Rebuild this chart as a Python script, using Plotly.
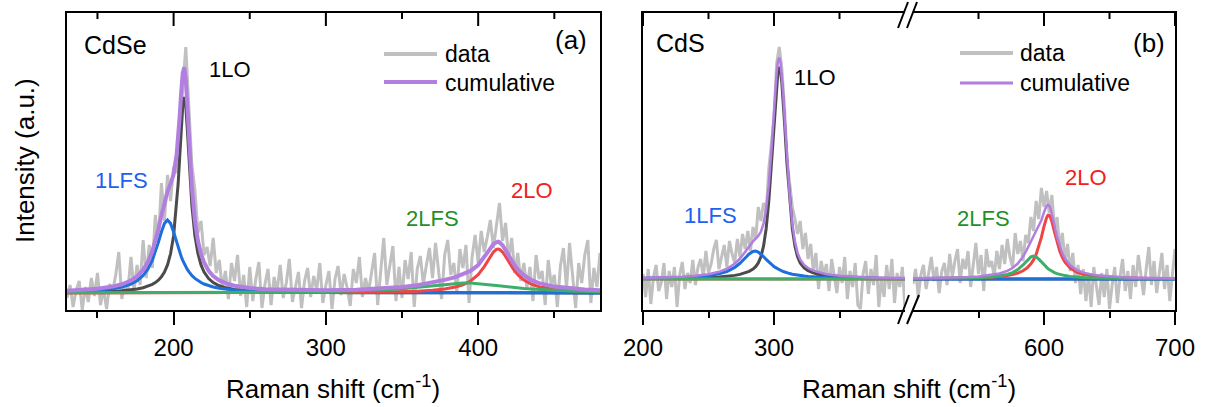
import plotly.graph_objects as go

W, H = 1208, 407
FONT = "Liberation Sans, Arial, sans-serif"


def px(x):
    return x / W


def py(y):
    return 1 - y / H


# ---------------- Panel (a): CdSe ----------------
xa_data = list(range(130, 481, 2))
a_data = [
    -5, 8, -14, 3, 12, -17, 6, -9, 15, -3,
    20, -12, 4, -16, 9, 2, 18, 41, -6, 10,
    3, 36, 2, 28, 8, 53, 15, 48, 25, 78,
    50, 110, 72, 118, 92, 126, 120, 165, 210, 246,
    186, 128, 103, 60, 72, 38, 46, 27, 55, 20,
    33, 4, 22, -6, 30, 12, 38, -3, 18, -14,
    26, -8, 14, 31, -15, 9, 24, -12, 16, 2,
    28, -5, 10, 34, -9, 6, 21, -15, 12, 25,
    -4, 17, 3, 30, -10, 8, 22, -16, 14, 27,
    -2, 19, 5, -13, 24, 10, 36, -4, 15, 1,
    22, 40, -12, 18, 55, 8, 29, 47, -8, 26,
    -5, 33, 14, 41, -14, 24, 37, 9, 28, 45,
    15, 50, 22, -6, 38, 53, 18, 30, 0, 44,
    25, 48, -10, 36, 58, 30, 62, 41, 56, 73,
    45, 66, 90, 52, 70, 34, 55, 20, 40, 12,
    30, 5, 26, -8, 38, 14, 22, -12, 33, 8,
    18, -14, 27, 45, 4, 50, 16, -15, 30, 10,
    38, 53, -10, 25, 6, 40,
]
xa_fit = [130, 140, 150, 160, 166, 172, 176, 180, 183, 186,
          188, 190, 192, 194, 196, 198, 200, 202, 203, 204,
          205, 206, 207, 208, 209, 210, 211, 212, 214, 216,
          218, 220, 223, 226, 230, 235, 240, 250, 260, 280,
          300, 320, 340, 350, 360, 370, 378, 385, 390, 395,
          400, 404, 407, 410, 412, 413, 414, 416, 418, 420,
          423, 426, 430, 435, 440, 450, 460, 470, 480]
a_1LO = [0.7, 0.9, 1.2, 1.8, 2.3, 3.2, 4.0, 5.3, 6.7, 8.6,
         10.4, 12.8, 16.2, 21.0, 28.1, 39.2, 57.3, 87.7, 109.5, 135.7,
         163.7, 186.8, 196.0, 186.8, 163.7, 135.7, 109.5, 87.7, 57.3, 39.2,
         28.1, 21.0, 14.4, 10.4, 7.2, 4.9, 3.6, 2.1, 1.4, 0.7,
         0.5, 0.3, 0.2, 0.2, 0.2, 0.2, 0.1, 0.1, 0.1, 0.1,
         0.1, 0.1, 0.1, 0.1, 0.1, 0.1, 0.1, 0.1, 0.1, 0.1,
         0.1, 0.1, 0.1, 0.1, 0.1, 0.1, 0.1, 0.1, 0.1]
a_1LFS = [1.3, 1.8, 2.7, 4.3, 6.0, 9.0, 12.3, 17.5, 23.6, 32.7,
          40.8, 50.6, 61.0, 69.6, 73.0, 69.6, 61.0, 50.6, 45.5, 40.8,
          36.5, 32.7, 29.3, 26.3, 23.6, 21.3, 19.3, 17.5, 14.6, 12.3,
          10.5, 9.0, 7.3, 6.0, 4.8, 3.7, 2.9, 2.0, 1.4, 0.8,
          0.5, 0.4, 0.3, 0.25, 0.2, 0.2, 0.2, 0.2, 0.2, 0.2,
          0.15, 0.15, 0.15, 0.15, 0.15, 0.15, 0.15, 0.15, 0.15, 0.15,
          0.14, 0.14, 0.13, 0.13, 0.12, 0.12, 0.11, 0.11, 0.1]
a_2LO = [0.1, 0.1, 0.1, 0.1, 0.1, 0.1, 0.1, 0.1, 0.1, 0.1,
         0.1, 0.1, 0.1, 0.1, 0.1, 0.1, 0.1, 0.1, 0.1, 0.1,
         0.1, 0.1, 0.1, 0.1, 0.1, 0.1, 0.1, 0.1, 0.1, 0.1,
         0.1, 0.1, 0.1, 0.2, 0.2, 0.2, 0.2, 0.2, 0.2, 0.3,
         0.4, 0.6, 1.0, 1.3, 1.8, 2.7, 4.0, 5.9, 8.2, 12.0,
         18.4, 26.4, 33.9, 41.0, 43.6, 44.0, 43.6, 41.0, 36.5, 31.3,
         24.1, 18.4, 13.0, 8.8, 6.3, 3.6, 2.3, 1.6, 1.2]
a_2LFS = [0.2, 0.2, 0.2, 0.2, 0.2, 0.2, 0.3, 0.3, 0.3, 0.3,
          0.3, 0.3, 0.3, 0.3, 0.3, 0.3, 0.3, 0.3, 0.3, 0.3,
          0.3, 0.3, 0.3, 0.3, 0.3, 0.3, 0.3, 0.4, 0.4, 0.4,
          0.4, 0.4, 0.4, 0.4, 0.4, 0.5, 0.5, 0.6, 0.7, 0.9,
          1.3, 2.0, 3.2, 4.2, 5.6, 7.4, 8.8, 9.7, 10.0, 9.9,
          9.4, 8.8, 8.3, 7.7, 7.4, 7.2, 7.0, 6.6, 6.3, 5.9,
          5.5, 5.0, 4.5, 3.9, 3.4, 2.6, 2.1, 1.6, 1.3]
a_cum = [2.3, 3.0, 4.2, 6.4, 8.7, 12.5, 16.7, 23.2, 30.6, 41.7,
         51.6, 63.8, 77.6, 91.0, 101.5, 109.2, 118.7, 138.7, 155.4, 177.0,
         200.7, 219.9, 225.8, 213.6, 187.8, 157.5, 129.3, 105.7, 72.4, 52.0,
         39.0, 30.5, 22.2, 17.0, 12.6, 9.3, 7.2, 4.9, 3.7, 2.8,
         2.7, 3.3, 4.7, 6.0, 7.8, 10.4, 13.1, 15.9, 18.5, 22.1,
         28.0, 35.4, 42.4, 48.9, 51.2, 51.4, 50.8, 47.8, 43.0, 37.5,
         29.8, 23.6, 17.7, 12.9, 9.9, 6.4, 4.5, 3.4, 2.7]

# ---------------- Panel (b): CdS (broken axis) ----------------
xb1_data = list(range(200, 401, 2))
b1_data = [
    5, -18, 10, -25, 2, 14, -12, -3, 16, -20,
    8, -8, 12, -28, 4, 17, -10, 6, -4, 19,
    -6, 12, 20, 2, 28, 6, 15, 30, 39, 10,
    22, 34, 12, 38, 25, 16, 40, 22, 45, 30,
    48, 28, 52, 40, 72, 58, 76, 66, 110, 136,
    160, 215, 232, 210, 172, 118, 96, 72, 60, 45,
    58, 30, 46, 20, 35, 8, 26, -10, 18, 4,
    15, -12, 20, 2, -14, 12, -4, 22, -20, 8,
    -8, 16, -26, -30, 5, 18, -15, 10, -6, 24,
    -28, 2, -18, 14, -10, 20, -24, 6, -8, 12, -30,
]
xb2_data = list(range(500, 701, 2))
b2_data = [
    -5, 10, -18, 4, 14, -10, 6, 22, -2, 12,
    -14, 8, 16, -6, 25, 2, 18, 30, -4, 20,
    10, 28, -8, 14, 36, 5, 24, -12, 30, 12,
    18, 2, 28, 10, 34, 15, 40, 22, 12, 46,
    25, 38, 18, 44, 36, 62, 48, 78, 60, 91,
    72, 88, 66, 84, 50, 62, 30, 46, 18, 35,
    8, 26, -4, 14, -15, 10, -22, 4, -28, 12,
    -10, -26, 6, -18, 10, -30, -6, 12, -24, 2,
    20, -12, 8, -20, 14, -8, 24, 2, -16, 10,
    32, -6, 18, -14, 6, 26, -10, 14, -22, 8, 30,
]
xb1_fit = [200, 210, 220, 230, 240, 250, 258, 264, 270, 274,
           278, 281, 284, 286, 288, 290, 292, 294, 296, 298,
           300, 301, 302, 303, 304, 305, 306, 307, 308, 310,
           312, 314, 316, 318, 320, 323, 326, 330, 335,
           340, 350, 360, 370, 380, 390, 400]
b1_1LO = [0.40, 0.49, 0.61, 0.79, 1.05, 1.47, 2.01, 2.65, 3.63, 4.61,
          6.06, 7.62, 9.92, 12.35, 16.05, 22.17, 32.77, 50.28, 77.31, 114.07,
          157.06, 177.97, 195.67, 207.73, 212.0, 207.73, 195.67, 177.97, 157.06, 114.07,
          77.31, 50.28, 32.77, 22.17, 16.05, 10.99, 8.27, 6.06, 4.34,
          3.26, 2.01, 1.36, 0.99, 0.75, 0.58, 0.47]
b1_1LFS = [0.63, 0.81, 1.06, 1.46, 2.11, 3.31, 5.12, 7.50, 11.57, 15.7,
           21.0, 25.0, 27.6, 28.0, 27.0, 25.0, 22.4, 19.6, 16.9, 14.5,
           12.5, 11.57, 10.7, 9.96, 9.26, 8.62, 8.03, 7.50, 7.0, 6.15,
           5.43, 4.82, 4.30, 3.86, 3.48, 3.0, 2.62, 2.20, 1.81,
           1.51, 1.09, 0.83, 0.65, 0.52, 0.43, 0.36]
b1_cum = [1.07, 1.34, 1.71, 2.30, 3.21, 4.83, 7.18, 10.21, 15.26, 20.37,
          27.12, 32.68, 37.58, 40.42, 43.12, 47.24, 55.24, 69.95, 94.28, 128.64,
          169.63, 189.61, 206.44, 217.76, 221.33, 216.42, 203.77, 185.54, 164.13, 120.29,
          82.81, 55.17, 37.14, 26.11, 19.61, 14.07, 10.97, 8.34, 6.23,
          4.85, 3.18, 2.27, 1.73, 1.36, 1.10, 0.92]
xb1_tail = [200, 250, 300, 350, 400]
b1_2LO = [0.02, 0.03, 0.04, 0.06, 0.09]
b1_2LFS = [0.02, 0.02, 0.03, 0.04, 0.06]

xb2_fit = [500, 510, 520, 530, 540, 550, 560, 566, 572, 576,
           580, 584, 587, 590, 592, 594, 596, 598, 600,
           601, 602, 603, 604, 605, 606,
           608, 610, 612, 614, 616,
           620, 625, 630, 640, 650, 660, 670, 680, 690, 700]
b2_2LO = [0.33, 0.41, 0.51, 0.66, 0.88, 1.23, 1.85, 2.46, 3.43, 4.43,
          5.92, 8.25, 10.96, 15.1, 19.1, 24.6, 32.0, 41.6, 52.6,
          57.6, 61.5, 63.7, 63.7, 61.5, 57.6,
          47.1, 36.5, 28.0, 21.6, 16.9,
          10.96, 6.94, 4.75, 2.59, 1.62, 1.11, 0.80, 0.61, 0.48, 0.38]
b2_2LFS = [0.27, 0.34, 0.44, 0.58, 0.82, 1.23, 2.05, 2.96, 4.6, 6.46,
           9.43, 14.0, 18.4, 22.1, 23.0, 22.1, 19.8, 16.9, 14.0,
           12.7, 11.5, 10.4, 9.43, 8.55, 7.77,
           6.46, 5.42, 4.6, 3.94, 3.40,
           2.60, 1.93, 1.49, 0.96, 0.66, 0.49, 0.37, 0.29, 0.24, 0.20]
b2_cum = [0.82, 0.95, 1.14, 1.41, 1.86, 2.61, 4.04, 5.56, 8.16, 11.02,
          15.48, 22.37, 29.48, 37.32, 42.22, 46.82, 51.92, 58.62, 66.72,
          70.42, 73.12, 74.22, 73.25, 70.17, 65.49,
          53.67, 42.03, 32.71, 25.65, 20.41,
          13.67, 8.97, 6.34, 3.65, 2.37, 1.69, 1.25, 0.98, 0.79, 0.65]
xb2_tail = [500, 550, 600, 650, 700]
b2_1LO = [0.12, 0.07, 0.05, 0.04, 0.03]
b2_1LFS = [0.10, 0.07, 0.05, 0.04, 0.03]

# axis ranges and ticks
xa_range = [130, 480]
xa_ticks = [200, 300, 400]
xa_minor = [150, 250, 350, 450]
ya_range = [-17, 280]
xb1_range = [200, 400]
xb1_ticks = [200, 300]
xb1_minor = [250, 350]
xb2_range = [500, 700]
xb2_ticks = [600, 700]
xb2_minor = [550, 650]
yb_range = [-31, 266]

# colours
C_DATA = "#c0c0c0"
C_1LO = "#4b4b4b"
C_1LFS = "#1c6fdc"
C_2LO = "#f04545"
C_2LFS = "#3daf6a"
C_CUM = "#b27fe0"

fig = go.Figure()


def add(x, y, color, width, xa, ya):
    fig.add_trace(go.Scatter(x=x, y=y, mode="lines", xaxis=xa, yaxis=ya,
                             line=dict(color=color, width=width),
                             showlegend=False, hoverinfo="skip"))


# panel a
add(xa_data, a_data, C_DATA, 3, "x", "y")
add(xa_fit, a_1LO, C_1LO, 3, "x", "y")
add(xa_fit, a_1LFS, C_1LFS, 3, "x", "y")
add(xa_fit, a_2LO, C_2LO, 3, "x", "y")
add(xa_fit, a_2LFS, C_2LFS, 3, "x", "y")
add(xa_fit, a_cum, C_CUM, 4, "x", "y")
# panel b left
add(xb1_data, b1_data, C_DATA, 3, "x2", "y2")
add(xb1_fit, b1_1LO, C_1LO, 3, "x2", "y2")
add(xb1_fit, b1_1LFS, C_1LFS, 3, "x2", "y2")
add(xb1_tail, b1_2LO, C_2LO, 3, "x2", "y2")
add(xb1_tail, b1_2LFS, C_2LFS, 3, "x2", "y2")
add(xb1_fit, b1_cum, C_CUM, 2.5, "x2", "y2")
# panel b right
add(xb2_data, b2_data, C_DATA, 3, "x3", "y3")
add(xb2_tail, b2_1LO, C_1LO, 3, "x3", "y3")
add(xb2_tail, b2_1LFS, C_1LFS, 3, "x3", "y3")
add(xb2_fit, b2_2LO, C_2LO, 3, "x3", "y3")
add(xb2_fit, b2_2LFS, C_2LFS, 3, "x3", "y3")
add(xb2_fit, b2_cum, C_CUM, 2.5, "x3", "y3")

PLOT_TOP, PLOT_BOTTOM = 13, 310
YDOM = [py(PLOT_BOTTOM), py(PLOT_TOP)]
tickfont = dict(family=FONT, size=24, color="black")
MAJOR_LEN, MINOR_LEN = 13, 6


def bottom_axis(dom, rng, ticks, minor, anchor):
    return dict(domain=dom, range=rng, anchor=anchor, showline=True, linewidth=2,
                linecolor="black", mirror=True, ticks="outside", ticklen=MAJOR_LEN,
                tickwidth=2, tickcolor="black", tickmode="array", tickvals=ticks,
                tickfont=tickfont, showgrid=False, zeroline=False, automargin=False,
                ticklabelstandoff=2,
                minor=dict(tickmode="array", tickvals=minor, ticks="outside",
                           ticklen=MINOR_LEN, tickwidth=2, tickcolor="black",
                           showgrid=False))


def yax(rng, anchor, side="left", mirror=False):
    return dict(domain=YDOM, range=rng, anchor=anchor, side=side, showline=True,
                linewidth=2, linecolor="black", mirror=mirror, ticks="",
                showticklabels=False, showgrid=False, zeroline=False, automargin=False)


fig.update_layout(
    width=W, height=H, margin=dict(l=0, r=0, t=0, b=0, autoexpand=False),
    paper_bgcolor="white", plot_bgcolor="white",
    font=dict(family=FONT, size=22, color="black"),
    xaxis=bottom_axis([px(67), px(600)], xa_range, xa_ticks, xa_minor, "y"),
    xaxis2=bottom_axis([px(643), px(905)], xb1_range, xb1_ticks, xb1_minor, "y2"),
    xaxis3=bottom_axis([px(913), px(1175)], xb2_range, xb2_ticks, xb2_minor, "y3"),
    yaxis=yax(ya_range, "x", mirror=True),
    yaxis2=yax(yb_range, "x2"),
    yaxis3=yax(yb_range, "x3", side="right"),
)

shapes = []


def pline(x0, y0, x1, y1, color, width):
    shapes.append(dict(type="line", xref="paper", yref="paper",
                       x0=px(x0), y0=py(y0), x1=px(x1), y1=py(y1),
                       line=dict(color=color, width=width)))


# inside-pointing ticks on the top frame, placed with each panel's x scale
for xref, ticks, minor in [("x", xa_ticks, xa_minor), ("x2", xb1_ticks, xb1_minor),
                           ("x3", xb2_ticks, xb2_minor)]:
    for vals, ln in [(ticks, MAJOR_LEN), (minor, MINOR_LEN)]:
        for v in vals:
            shapes.append(dict(type="line", xref=xref, yref="paper",
                               x0=v, x1=v, y0=py(PLOT_TOP), y1=py(PLOT_TOP + ln),
                               line=dict(color="black", width=2)))

# legend samples
pline(384, 54, 437, 54, C_DATA, 4)
pline(384, 82, 437, 82, C_CUM, 4)
pline(960, 53, 1013, 53, C_DATA, 4)
pline(960, 83, 1013, 83, C_CUM, 3)
# axis break marks
pline(898, 28, 908, 2, "black", 2)
pline(907, 28, 917, 2, "black", 2)
pline(898, 324, 909, 295, "black", 2)
pline(907, 324, 919, 295, "black", 2)
fig.update_layout(shapes=shapes)

ann = []


def text(t, x, y, size, color="black", xanchor="left", angle=0):
    ann.append(dict(text=t, x=px(x), y=py(y), xref="paper", yref="paper",
                    xanchor=xanchor, yanchor="middle", showarrow=False,
                    textangle=angle, font=dict(family=FONT, size=size, color=color)))


text("data", 443, 54, 23)
text("cumulative", 443, 83, 23)
text("data", 1018, 53, 23)
text("cumulative", 1018, 83, 23)
text("(a)", 589, 40, 26, xanchor="right")
text("(b)", 1167, 43, 26, xanchor="right")
text("CdSe", 82, 45, 25)
text("CdS", 654, 43, 25)
text("1LO", 207, 70, 22)
text("1LFS", 93, 180, 22, color="#2060f0")
text("2LFS", 404, 218, 22, color="#1f9028")
text("2LO", 509, 190, 22, color="#f02020")
text("1LO", 792, 77, 22)
text("1LFS", 682, 215, 22, color="#2060f0")
text("2LFS", 955, 218, 22, color="#1f9028")
text("2LO", 1063, 177, 22, color="#f02020")
text("Raman shift (cm<sup>-1</sup>)", 333, 387, 26, xanchor="center")
text("Raman shift (cm<sup>-1</sup>)", 909, 387, 26, xanchor="center")
text("Intensity (a.u.)", 25, 161, 26, xanchor="center", angle=-90)
fig.update_layout(annotations=ann)

fig.write_html("out.html")
